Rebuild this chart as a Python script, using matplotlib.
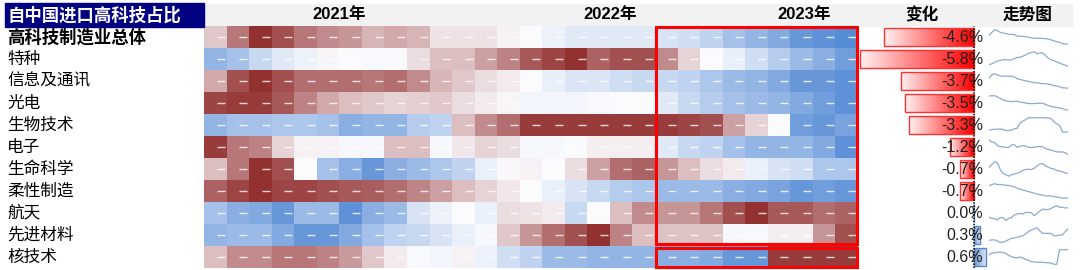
import numpy as np
import matplotlib
matplotlib.use('Agg')
import matplotlib.pyplot as plt
from matplotlib.colors import LinearSegmentedColormap
from matplotlib.patches import Rectangle
from matplotlib import transforms

plt.rcParams['font.family'] = ['Liberation Sans', 'Noto Sans CJK SC']

W, H = 1080, 270

# ---------------- 数据 ----------------
categories = ['高科技制造业总体', '特种', '信息及通讯', '光电', '生物技术', '电子',
              '生命科学', '柔性制造', '航天', '先进材料', '核技术']
years = ['2021年', '2022年', '2023年']
year_months = [8, 12, 9]
change = [-4.6, -5.8, -3.7, -3.5, -3.3, -1.2, -0.7, -0.7, 0.0, 0.3, 0.6]

# 每行按月的相对水平（-1 低/蓝 ~ 1 高/红）
r_total = [0.25, 0.65, 1.0, 0.85, 0.65, 0.55, 0.5, 0.35, 0.4, 0.35,
           0.12, 0.12, 0.12, 0.05, 0.0, -0.08, -0.15, -0.15, -0.15, -0.15,
           -0.2, -0.25, -0.35, -0.5, -0.6, -0.7, -0.85, -0.9, -0.95]
r_special = [-0.6, -0.5, -0.3, -0.15, -0.08, 0.03, 0.0, -0.02, -0.02, 0.15,
             0.3, 0.3, 0.45, 0.6, 0.8, 0.9, 1.0, 0.75, 0.85, 0.85,
             0.55, 0.2, 0.0, -0.1, -0.25, -0.4, -0.55, -0.65, -0.8]
r_ict = [0.4, 0.85, 1.0, 0.85, 0.7, 0.7, 0.7, 0.65, 0.7, 0.55,
         0.35, 0.25, 0.15, 0.08, 0.0, -0.1, -0.18, -0.18, -0.25, -0.3,
         -0.3, -0.35, -0.45, -0.55, -0.6, -0.7, -0.85, -0.85, -0.9]
r_opto = [0.9, 0.95, 0.95, 0.8, 0.6, 0.4, 0.3, 0.25, 0.2, 0.22,
          0.25, 0.15, 0.08, 0.03, -0.05, -0.05, -0.05, -0.02, 0.0, 0.0,
          -0.15, -0.3, -0.4, -0.5, -0.55, -0.6, -0.7, -0.8, -0.9]
r_bio = [-0.6, -0.5, -0.5, -0.45, -0.45, -0.5, -0.65, -0.6, -0.6, -0.4,
         -0.35, 0.3, 0.55, 0.7, 0.95, 0.95, 0.95, 0.95, 0.95, 0.95,
         0.95, 0.9, 0.85, 0.45, 0.2, 0.0, -0.8, -0.85, -0.75]
r_elec = [0.95, 0.65, 0.6, 0.2, 0.05, 0.05, -0.03, -0.03, 0.3, 0.3,
          -0.03, 0.1, 0.2, 0.15, -0.03, -0.03, 0.0, 0.07, 0.07, 0.07,
          -0.15, -0.3, -0.35, -0.5, -0.6, -0.6, -0.6, -0.7, -0.9]
r_life = [0.3, 0.65, 1.0, 0.85, 0.0, -0.5, -0.65, -0.85, -0.65, -0.55,
          -0.45, -0.35, -0.1, 0.02, 0.05, 0.0, 0.15, 0.45, 0.7, 0.75,
          0.5, 0.3, 0.15, 0.08, -0.1, -0.2, -0.25, -0.45, -0.45]
r_flex = [0.75, 0.9, 1.0, 0.9, 0.9, 0.85, 0.8, 0.78, 0.7, 0.58,
          0.45, 0.3, 0.2, 0.1, 0.0, -0.1, -0.2, -0.3, -0.4, -0.45,
          -0.55, -0.55, -0.55, -0.65, -0.7, -0.75, -0.85, -0.8, -0.85]
r_aero = [-0.5, -0.65, -0.7, -0.85, -0.55, -0.55, -0.9, -0.65, -0.55, -0.2,
          -0.08, 0.0, -0.1, 0.15, 0.12, 0.08, -0.3, 0.0, 0.3, 0.55,
          0.5, 0.5, 0.65, 0.85, 1.0, 0.8, 0.8, 0.7, 0.75]
r_mat = [-0.6, -0.55, -0.55, -0.7, -0.85, -0.85, -0.7, -0.5, -0.35, -0.3,
         -0.2, -0.1, -0.03, 0.25, 0.5, 0.7, 0.85, 1.0, 0.6, 0.3,
         0.28, 0.28, 0.28, -0.03, -0.02, 0.07, 0.07, 0.5, 0.85]
r_nuke = [0.3, 0.55, 0.55, 0.65, 0.65, 0.6, 0.48, 0.25, 0.08, -0.02,
          -0.05, 0.05, -0.08, -0.25, -0.35, -0.55, -0.55, -0.6, -0.6, -0.6,
          -0.65, -0.65, -0.7, -0.85, -0.85, 0.95, 0.95, 0.95, 0.95]

rows = [r_total, r_special, r_ict, r_opto, r_bio, r_elec,
        r_life, r_flex, r_aero, r_mat, r_nuke]
data = np.array(rows)
n_rows, n_cols = data.shape

# 年份标签位置（列坐标）
year_label_x = [6.0, 18.0, 26.6]

# ---------------- 工具 ----------------
def rect(x0, y0, x1, y1):
    """像素框 -> figure 坐标"""
    return [x0 / W, 1 - y1 / H, (x1 - x0) / W, (y1 - y0) / H]

ROW_TOP, ROW_H = 26, 22
ROW_BOTTOM = ROW_TOP + ROW_H * n_rows

fig = plt.figure(figsize=(W / 100, H / 100), dpi=100)
fig.patch.set_facecolor('white')

# 表头底色 + 标题
fig.add_artist(Rectangle(rect(204, 4, 1072, ROW_TOP)[:2], (1072 - 204) / W, (ROW_TOP - 4) / H,
                         transform=fig.transFigure, color='#f2f2f2', zorder=0))
fig.add_artist(Rectangle(rect(5, 3, 204, ROW_TOP + 1)[:2], 199 / W, (ROW_TOP - 2) / H,
                         transform=fig.transFigure, color='#000080', zorder=1))
fig.text(8 / W, 1 - 15 / H, '自中国进口高科技占比', color='white', fontsize=12.5,
         fontweight='bold', ha='left', va='center')

# ---------------- 热力图 ----------------
cmap = LinearSegmentedColormap.from_list('bwr_xl', ['#4e86d3', '#fbfbfe', '#933131'])
ax = fig.add_axes(rect(204, ROW_TOP, 858, ROW_BOTTOM))
ax.pcolormesh(np.arange(n_cols + 1), np.arange(n_rows + 1), data, cmap=cmap,
              vmin=-1, vmax=1, shading='flat')
cx, cy = np.meshgrid(np.arange(n_cols) + 0.74, np.arange(n_rows) + 0.5)
ax.plot(cx.ravel(), cy.ravel(), ls='none', marker='_', ms=6, mew=1.0,
        color='white', alpha=0.8)
ax.set_xlim(0, n_cols)
ax.set_ylim(n_rows, 0)
ax.axis('off')

for x, yr in zip(year_label_x, years):
    ax.text(x, -0.52, yr, ha='center', va='center', fontsize=12,
            fontweight='bold', clip_on=False)

# 2023 红框
start23 = sum(year_months[:2])
ax.add_patch(Rectangle((start23 + 0.03, 0.03), year_months[2] - 0.06, n_rows - 1 - 0.12,
                       fill=False, ec='#ff0000', lw=2.2, clip_on=False, zorder=5))
ax.add_patch(Rectangle((start23 + 0.03, n_rows - 1 + 0.07), year_months[2] - 0.06, 0.9,
                       fill=False, ec='#ff0000', lw=2.2, clip_on=False, zorder=5))

# 行标签
trans = transforms.blended_transform_factory(fig.transFigure, ax.transData)
for i, name in enumerate(categories):
    ax.text(7 / W, i + 0.5, name, transform=trans, ha='left', va='center',
            fontsize=12.5 if i == 0 else 12, fontweight='bold' if i == 0 else 'normal',
            clip_on=False)

# ---------------- 变化 ----------------
fig.text(922 / W, 1 - 15 / H, '变化', fontsize=12, fontweight='bold', ha='center', va='center')
bx = fig.add_axes(rect(858, ROW_TOP, 990, ROW_BOTTOM))
bx.patch.set_alpha(0)
red_cm = LinearSegmentedColormap.from_list('rg', ['#fff2f2', '#ff0000'])
blue_cm = LinearSegmentedColormap.from_list('bg', ['#dbe6f5', '#6f98d3'])
edge = ['#ff3030' if v < 0 else '#5b87c8' for v in change]
bars = bx.barh(np.arange(n_rows) + 0.5, change, height=0.86, facecolor='none',
               edgecolor=edge, lw=1.0, zorder=3)
grad = np.linspace(0, 1, 256)[None, :]
for bar, v in zip(bars, change):
    if v == 0:
        continue
    x0, w = bar.get_x(), bar.get_width()
    left, right = min(x0, x0 + w), max(x0, x0 + w)
    y0, h = bar.get_y(), bar.get_height()
    im = bx.imshow(grad if v < 0 else grad[:, ::-1], cmap=red_cm if v < 0 else blue_cm,
                   extent=(left, right, y0 + h, y0), aspect='auto', zorder=2)
    im.set_clip_path(bar)
for i, v in enumerate(change):
    bx.text(0.46, i + 0.5, f'{v:.1f}%', ha='right', va='center', fontsize=11.5,
            color='#222222', zorder=4)
bx.axvline(0, color='black', ls=(0, (1, 1)), lw=1.1, zorder=4)
bx.set_xlim(-5.92, 0.82)
bx.set_ylim(n_rows, 0)
bx.axis('off')

# ---------------- 走势图 ----------------
fig.text(1028 / W, 1 - 15 / H, '走势图', fontsize=12, fontweight='bold', ha='center', va='center')
for i, vals in enumerate(rows):
    sx = fig.add_axes(rect(989, ROW_TOP + ROW_H * i + 3, 1068, ROW_TOP + ROW_H * (i + 1) - 3))
    sx.plot(vals, color='#8eaad0', lw=0.9)
    sx.set_xlim(0, len(vals) - 1)
    sx.axis('off')

fig.savefig('out.png', dpi=100)
